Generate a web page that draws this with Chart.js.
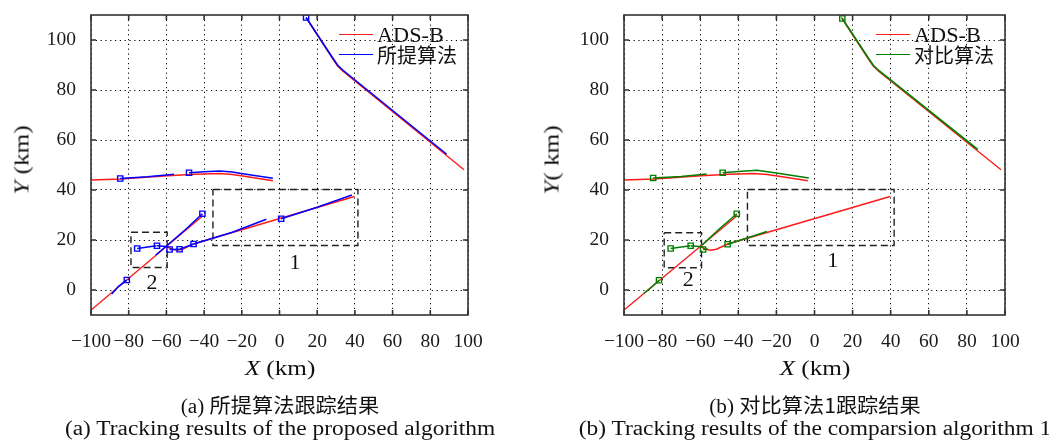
<!DOCTYPE html>
<html><head><meta charset="utf-8">
<script src="https://cdn.jsdelivr.net/npm/chart.js@4"></script>
<style>
body{margin:0;width:1049px;height:442px;background:#fff;position:relative;overflow:hidden;font-family:"Liberation Serif",serif;color:#111}
canvas{position:absolute;top:0}
.t{position:absolute;white-space:nowrap;transform:translate(-50%,-50%);line-height:1}
.cjk{font-family:"Noto Sans CJK SC",sans-serif}
.lg{position:absolute;height:0;border-top:1.6px solid}
.lt{position:absolute;white-space:nowrap;transform:translateY(-50%);line-height:1;font-size:21px}
</style></head><body>
<canvas id="ca" width="524" height="360" style="left:0"></canvas>
<canvas id="cb" width="519" height="360" style="left:530px"></canvas>
<div id="ann"></div>
<script>
const xTicks=[-100,-80,-60,-40,-20,0,20,40,60,80,100];
const yTicks=[0,20,40,60,80,100];

// ADS-B reference tracks (red)
const adsbA=[[14.1,109],[28.5,92.2],[30.8,89.6],[33.5,87.6],[97.9,48.1]];
const adsbB=[[-100,44],[-84.5,44.4],[-59.5,45.7],[-45,46.3],[-31.7,46.6],[-25,46.2],[-19.5,45.6],[-3.5,43.7]];
const adsbC=[[-99.8,-7.9],[-40.5,29.8]];
const adsbD=[[-60,17.4],[-57,16.3],[-54.5,15.9],[-51.5,16.3],[-45.6,18.4],[39.7,37.4]];

// proposed algorithm track segments (blue), first point marked
const propSegs=[
 [[14.1,109],[28.4,92.6],[30.8,90],[33.5,88],[88.7,54.3]],
 [[-84.5,44.6],[-70,45.3],[-56,46.3]],
 [[-48,46.9],[-40,47.3],[-31.7,47.6],[-25,47.2],[-19.5,46.5],[-3.5,44.7]],
 [[-81,4],[-85.5,1.4],[-89,-1.6]],
 [[-40.9,30.5],[-50,24.1],[-60,17.6],[-65.6,14.0]],
 [[-75.5,16.6],[-65.3,17.7]],
 [[-65,17.7],[-59,17.3]],
 [[-58.3,16.2],[-53,16.3]],
 [[-53,16.3],[-45.6,18.4]],
 [[-45.6,18.4],[-25,23.1],[-7,28.3]],
 [[0.9,28.5],[20,33.1],[38.4,38]]
];

// comparison algorithm 1 track segments (green), first point marked
const compSegs=[
 [[14.6,108.6],[28.6,92.4],[31,89.8],[33.7,87.8],[85.7,56.2]],
 [[-84.7,44.8],[-70,45.4],[-56.6,46.4]],
 [[-48.2,46.9],[-40,47.4],[-30.3,47.9],[-20,46.8],[-3,44.8]],
 [[-81.6,3.9],[-85.5,1.2],[-89.5,-1.3]],
 [[-40.8,30.5],[-50,24.4],[-59,18.0]],
 [[-75.5,16.6],[-65.2,17.7]],
 [[-65,17.7],[-59,17.3]],
 [[-58.5,16.2],[-56,16.4]],
 [[-45.6,18.3],[-35,20.9],[-25,23.4]]
];

// dashed zoom boxes [x0,x1,y0,y1] and their labels [text,x,y]
const boxesA=[[-35.3,41.6,17.8,40.2],[-78.8,-59.6,9.0,23.1]];
const boxLabelsA=[['1',8.2,11.2],['2',-67.6,3.2]];
const boxesB=[[-35.2,41.8,17.8,40.2],[-78.9,-59.3,8.9,22.9]];
const boxLabelsB=[['1',9.6,12.2],['2',-66.3,4.3]];

const RED='#ff1a1a', BLUE='#0000ff', GREEN='#008000';
const pts=a=>a.map(p=>({x:p[0],y:p[1]}));

function buildDatasets(segs,color,boxes){
  const ds=[];
  segs.forEach(s=>ds.push({data:pts(s),showLine:true,borderColor:color,borderWidth:1.6,
    pointStyle:'rect',pointRadius:c=>c.dataIndex===0?3.7:0,pointBorderColor:color,
    pointBackgroundColor:'rgba(255,255,255,0)',pointBorderWidth:1.4,order:0}));
  [adsbA,adsbB,adsbC,adsbD].forEach(s=>ds.push({data:pts(s),showLine:true,borderColor:RED,
    borderWidth:1.4,pointRadius:0,order:1}));
  boxes.forEach(b=>ds.push({data:pts([[b[0],b[3]],[b[1],b[3]],[b[1],b[2]],[b[0],b[2]],[b[0],b[3]]]),
    showLine:true,borderColor:'#222',borderWidth:1.4,borderDash:[7,4],pointRadius:0,order:2}));
  return ds;
}

const framePlugin={id:'frame',afterDatasetsDraw(ch){
  const {ctx,chartArea:a,scales:{x,y}}=ch;
  ctx.save();ctx.strokeStyle='#333';ctx.lineWidth=1.6;
  ctx.beginPath();
  xTicks.forEach(v=>{const p=x.getPixelForValue(v);ctx.moveTo(p,a.bottom);ctx.lineTo(p,a.bottom-5);ctx.moveTo(p,a.top);ctx.lineTo(p,a.top+5);});
  yTicks.forEach(v=>{const p=y.getPixelForValue(v);ctx.moveTo(a.left,p);ctx.lineTo(a.left+5,p);ctx.moveTo(a.right,p);ctx.lineTo(a.right-5,p);});
  ctx.stroke();
  ctx.strokeRect(a.left,a.top,a.right-a.left,a.bottom-a.top);
  ctx.restore();
}};

function makeChart(id,segs,color,boxes,yw,padR){
  const tickFont={family:'"Liberation Serif", serif',size:19.5};
  return new Chart(document.getElementById(id),{
    type:'scatter',
    data:{datasets:buildDatasets(segs,color,boxes)},
    options:{responsive:false,animation:false,events:[],
      layout:{padding:{top:15,right:padR,left:0,bottom:0}},
      plugins:{legend:{display:false},tooltip:{enabled:false}},
      scales:{
        x:{type:'linear',min:-100,max:100,
          afterBuildTicks:s=>{s.ticks=xTicks.map(v=>({value:v}));},
          afterFit:s=>{s.height=45;s.paddingLeft=0;s.paddingRight=0;},
          ticks:{font:tickFont,color:'#1a1a1a',padding:15,maxRotation:0,autoSkip:false,
            callback:v=>String(v).replace('-','\u2212')},
          grid:{color:'#000',lineWidth:1,drawTicks:false},
          border:{display:false,dash:[1.2,3.6]}},
        y:{type:'linear',min:-10,max:110,
          afterBuildTicks:s=>{s.ticks=yTicks.map(v=>({value:v}));},
          afterFit:s=>{s.width=yw;s.paddingTop=0;s.paddingBottom=0;},
          ticks:{font:tickFont,color:'#1a1a1a',padding:15,autoSkip:false},
          grid:{color:'#000',lineWidth:1,drawTicks:false},
          border:{display:false,dash:[1.2,3.6]}}
      }},
    plugins:[framePlugin]
  });
}

const chA=makeChart('ca',propSegs,BLUE,boxesA,91,56);
const chB=makeChart('cb',compSegs,GREEN,boxesB,94,44);

const ann=document.getElementById('ann');
function add(html,cls,style){const d=document.createElement('div');d.className=cls;d.innerHTML=html;d.style.cssText=style;ann.appendChild(d);return d;}

function decorate(ch,offX,labels,algName,yTitle,cap1,cap2){
  const a=ch.chartArea, sx=ch.scales.x, sy=ch.scales.y;
  const cx=offX+(a.left+a.right)/2;
  labels.forEach(l=>add(l[0],'t',`left:${offX+sx.getPixelForValue(l[1])}px;top:${sy.getPixelForValue(l[2])}px;font-size:22px`));
  // legend
  const lx0=offX+a.right-129, lx1=offX+a.right-95, tx=offX+a.right-91;
  add('','lg',`left:${lx0}px;width:${lx1-lx0}px;top:${34}px;border-color:${RED}`);
  add('','lg',`left:${lx0}px;width:${lx1-lx0}px;top:${54}px;border-color:${ch===chA?BLUE:GREEN}`);
  add('ADS-B','lt',`left:${tx}px;top:35px;transform:translateY(-50%) scaleX(1.06);transform-origin:0 50%`);
  add(algName,'lt cjk',`left:${tx}px;top:55px;font-size:20px`);
  // axis titles
  add(yTitle,'t',`left:${offX+22}px;top:160px;font-size:21px;transform:translate(-50%,-50%) rotate(-90deg) scaleX(1.2)`);
  add('<i>X</i> (km)','t',`left:${cx}px;top:368px;font-size:21px;transform:translate(-50%,-50%) scaleX(1.2)`);
  add(cap1,'t',`left:${cx}px;top:405px;font-size:20px;transform:translate(-50%,-50%) scaleX(1.06)`);
  add(cap2,'t',`left:${cx}px;top:428px;font-size:20px;transform:translate(-50%,-50%) scaleX(1.17)`);
}
decorate(chA,0,boxLabelsA,'所提算法','<i>Y</i> (km)','(a) <span class="cjk">所提算法跟踪结果</span>','(a) Tracking results of the proposed algorithm');
decorate(chB,530,boxLabelsB,'对比算法','<i>Y</i>( km)','(b) <span class="cjk">对比算法1跟踪结果</span>','(b) Tracking results of the comparsion algorithm 1');
</script>
</body></html>
